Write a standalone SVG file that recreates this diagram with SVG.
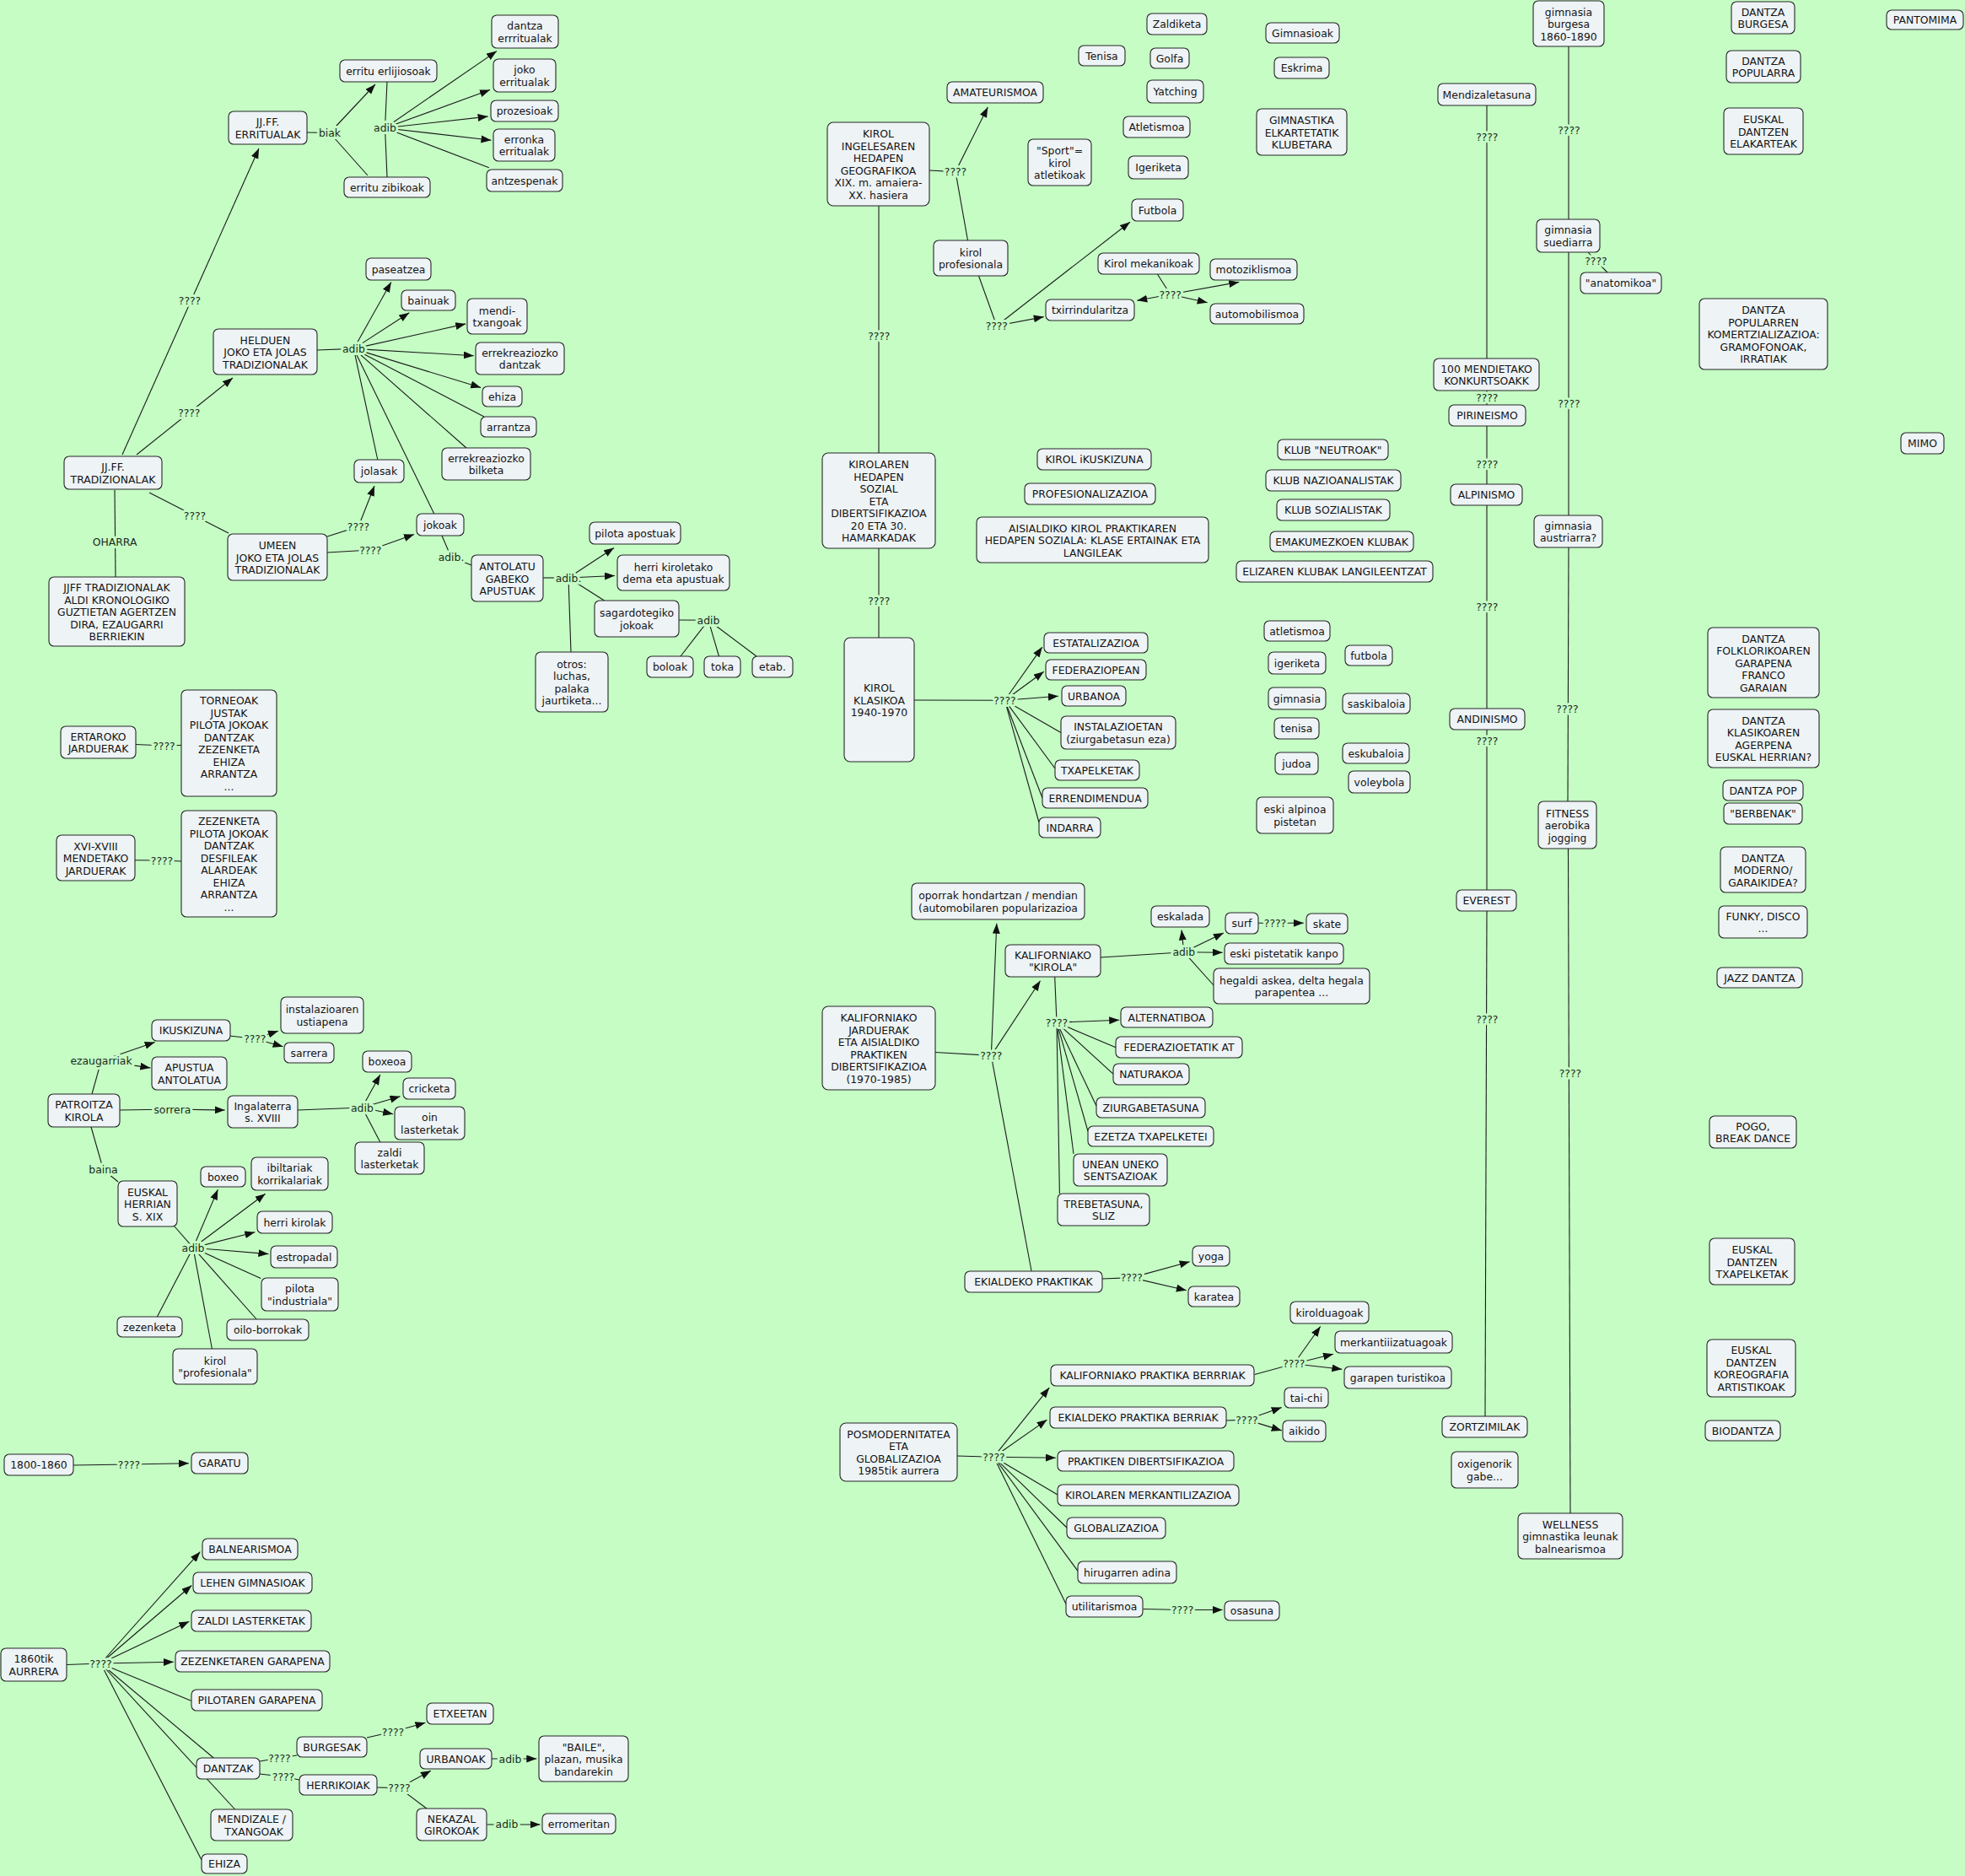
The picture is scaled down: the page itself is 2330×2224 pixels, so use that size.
<svg xmlns="http://www.w3.org/2000/svg" width="2330" height="2224" viewBox="0 0 2330 2224">
<style>
.bg{fill:#c5fdc5}
#nodes rect{fill:#eef3f6;stroke:#262626;stroke-width:1.1}
text,tspan{font-family:"DejaVu Sans",Verdana,sans-serif;font-size:12.4px;fill:#141414;text-anchor:middle;dominant-baseline:central}
.l{fill:#1a2a1a;paint-order:stroke;stroke:#c5fdc5;stroke-width:6px;stroke-linejoin:round}
.c{stroke:#1a1a1a;stroke-width:1.1;fill:none}
.a{marker-end:url(#ah)}
</style>
<defs>
<marker id="ah" markerWidth="13" markerHeight="10" refX="12" refY="4.5" orient="auto" markerUnits="userSpaceOnUse"><path d="M0,0 L12,4.5 L0,9 z" fill="#111"/></marker>
</defs>
<rect class="bg" x="0" y="0" width="2330" height="2224"/>
<g id="connectors">
<path class="c" d="M364,157 L391,157.5"/>
<path class="c a" d="M391,157.5 L445,100"/>
<path class="c" d="M391,157.5 L436,208"/>
<path class="c" d="M459,97 L456.5,151.7 L459,210"/>
<path class="c a" d="M456.5,151.7 L589,60.6"/>
<path class="c a" d="M456.5,151.7 L581,106.6"/>
<path class="c a" d="M456.5,151.7 L578.6,138.1"/>
<path class="c a" d="M456.5,151.7 L582.5,166.3"/>
<path class="c" d="M456.5,151.7 L579.8,198.7"/>
<path class="c a" d="M145,539 L307,176"/>
<path class="c a" d="M162,539 L276,448"/>
<path class="c" d="M177,584 L271,632"/>
<path class="c" d="M136,581 L137,684"/>
<path class="c" d="M376,415 L419.4,413.4"/>
<path class="c a" d="M419.4,413.4 L463.8,334.4"/>
<path class="c a" d="M419.4,413.4 L485.3,370.8"/>
<path class="c a" d="M419.4,413.4 L552.2,383.9"/>
<path class="c a" d="M419.4,413.4 L561.8,421.7"/>
<path class="c a" d="M419.4,413.4 L570.2,459.5"/>
<path class="c" d="M419.4,413.4 L574,494"/>
<path class="c" d="M419.4,413.4 L553,531"/>
<path class="c" d="M419.4,413.4 L447.8,545"/>
<path class="c" d="M419.4,413.4 L514.7,609"/>
<path class="c a" d="M388,636 L425,624.3 L444,576"/>
<path class="c a" d="M388,655 L439.3,652 L491,633.5"/>
<path class="c" d="M524,635 L535,660.6 L559,670"/>
<path class="c" d="M644,685 L674,685"/>
<path class="c a" d="M674,685 L728,649.5"/>
<path class="c a" d="M674,685 L729,682.5"/>
<path class="c" d="M674,685 L716.6,712"/>
<path class="c" d="M674,685 L677,773"/>
<path class="c" d="M805,735 L840,735.3"/>
<path class="c" d="M840,735.3 L807,778"/>
<path class="c" d="M840,735.3 L852.5,778"/>
<path class="c" d="M840,735.3 L897,778"/>
<path class="c" d="M161,882.5 L194.4,884 L215,883.5"/>
<path class="c" d="M160,1019.7 L192,1020 L215,1021"/>
<path class="c" d="M109,1297 L120,1257.6"/>
<path class="c a" d="M120,1257.6 L183.7,1235.4"/>
<path class="c a" d="M120,1257.6 L178.3,1265.9"/>
<path class="c" d="M272.5,1228 L302.3,1231.5"/>
<path class="c a" d="M302.3,1231.5 L329.9,1222.3"/>
<path class="c a" d="M302.3,1231.5 L335.6,1240.7"/>
<path class="c a" d="M142,1316 L204.4,1315 L266.7,1316"/>
<path class="c" d="M353,1316 L429.4,1313"/>
<path class="c a" d="M429.4,1313 L450.8,1274.1"/>
<path class="c a" d="M429.4,1313 L474.5,1299.8"/>
<path class="c a" d="M429.4,1313 L466.1,1320.7"/>
<path class="c" d="M429.4,1313 L450.8,1354"/>
<path class="c" d="M108,1336 L122.5,1386.6 L140,1401"/>
<path class="c" d="M207,1454 L229,1479.2"/>
<path class="c a" d="M229,1479.2 L258.3,1410.3"/>
<path class="c a" d="M229,1479.2 L314.6,1415.2"/>
<path class="c a" d="M229,1479.2 L302.3,1460.8"/>
<path class="c a" d="M229,1479.2 L318.4,1486.6"/>
<path class="c" d="M229,1479.2 L309.2,1515.6"/>
<path class="c" d="M229,1479.2 L304.2,1564"/>
<path class="c" d="M229,1479.2 L251.4,1599"/>
<path class="c" d="M229,1479.2 L186.4,1561"/>
<path class="c a" d="M87,1737 L153,1736 L223.9,1734.8"/>
<path class="c" d="M79,1973.5 L119.4,1972"/>
<path class="c a" d="M119.4,1972 L237.3,1839.7"/>
<path class="c a" d="M119.4,1972 L227.3,1879.5"/>
<path class="c a" d="M119.4,1972 L224.3,1922.2"/>
<path class="c a" d="M119.4,1972 L205.9,1970.2"/>
<path class="c" d="M119.4,1972 L226.6,2016.2"/>
<path class="c" d="M119.4,1972 L253.3,2084"/>
<path class="c" d="M119.4,1972 L278.6,2145"/>
<path class="c" d="M119.4,1972 L239,2205"/>
<path class="c" d="M308,2088 L331.4,2084 L352,2081"/>
<path class="c" d="M308,2103 L336,2106.3 L355,2110"/>
<path class="c a" d="M435,2060 L466,2053 L504.4,2042.3"/>
<path class="c" d="M447,2119 L473.4,2119.6"/>
<path class="c a" d="M473.4,2119.6 L510.9,2099.2"/>
<path class="c" d="M473.4,2119.6 L505.9,2144"/>
<path class="c a" d="M583,2085 L605,2085 L636.3,2085"/>
<path class="c a" d="M577.5,2163 L601,2163 L640.5,2163"/>
<path class="c" d="M1102,202 L1133,203.6"/>
<path class="c a" d="M1133,203.6 L1171.3,127"/>
<path class="c" d="M1133,203.6 L1147.5,285"/>
<path class="c" d="M1042,244 L1042,537"/>
<path class="c" d="M1042,650 L1042,756"/>
<path class="c" d="M1160.5,327 L1181.8,386.3"/>
<path class="c a" d="M1181.8,386.3 L1339.9,263.2"/>
<path class="c a" d="M1181.8,386.3 L1237.7,375.6"/>
<path class="c" d="M1372.4,325 L1387.7,349"/>
<path class="c a" d="M1387.7,349 L1348.3,356.3"/>
<path class="c a" d="M1387.7,349 L1469.2,334.4"/>
<path class="c a" d="M1387.7,349 L1431.7,358.7"/>
<path class="c" d="M1084,830 L1191.4,830.2"/>
<path class="c a" d="M1191.4,830.2 L1235.8,767.1"/>
<path class="c a" d="M1191.4,830.2 L1237.7,796.2"/>
<path class="c a" d="M1191.4,830.2 L1254.9,825.3"/>
<path class="c" d="M1191.4,830.2 L1258,868.4"/>
<path class="c" d="M1191.4,830.2 L1251,911"/>
<path class="c" d="M1191.4,830.2 L1236,946"/>
<path class="c" d="M1191.4,830.2 L1232,975"/>
<path class="c" d="M1109,1247.5 L1175.3,1251.4"/>
<path class="c a" d="M1175.3,1251.4 L1181.8,1094.8"/>
<path class="c a" d="M1175.3,1251.4 L1233.5,1162.7"/>
<path class="c" d="M1175.3,1251.4 L1223.1,1507"/>
<path class="c" d="M1305,1135 L1403.8,1128.7"/>
<path class="c a" d="M1403.8,1128.7 L1401.1,1102.6"/>
<path class="c a" d="M1403.8,1128.7 L1450.9,1106"/>
<path class="c a" d="M1403.8,1128.7 L1449.7,1129.2"/>
<path class="c" d="M1403.8,1128.7 L1439,1168"/>
<path class="c a" d="M1492,1094.3 L1512,1094.3 L1545.8,1094.3"/>
<path class="c" d="M1250.7,1158 L1253,1212.1"/>
<path class="c a" d="M1253,1212.1 L1327.2,1209.2"/>
<path class="c" d="M1253,1212.1 L1323,1241.7"/>
<path class="c" d="M1253,1212.1 L1320,1273.2"/>
<path class="c" d="M1253,1212.1 L1300,1311"/>
<path class="c" d="M1253,1212.1 L1290,1341"/>
<path class="c" d="M1253,1212.1 L1273,1368"/>
<path class="c" d="M1253,1212.1 L1256.4,1415"/>
<path class="c" d="M1307,1516 L1341.8,1514.6"/>
<path class="c a" d="M1341.8,1514.6 L1410.7,1495.7"/>
<path class="c a" d="M1341.8,1514.6 L1406.8,1529.8"/>
<path class="c" d="M1134.5,1726 L1178.4,1727.2"/>
<path class="c a" d="M1178.4,1727.2 L1244.2,1645.1"/>
<path class="c a" d="M1178.4,1727.2 L1241.5,1683.1"/>
<path class="c a" d="M1178.4,1727.2 L1251.8,1728.2"/>
<path class="c" d="M1178.4,1727.2 L1254,1772"/>
<path class="c" d="M1178.4,1727.2 L1265,1811"/>
<path class="c" d="M1178.4,1727.2 L1278,1862.4"/>
<path class="c" d="M1178.4,1727.2 L1264,1901.4"/>
<path class="c" d="M1487.6,1629.5 L1534.3,1616.7"/>
<path class="c a" d="M1534.3,1616.7 L1565.7,1572.5"/>
<path class="c a" d="M1534.3,1616.7 L1581,1605.3"/>
<path class="c a" d="M1534.3,1616.7 L1591.3,1623.3"/>
<path class="c" d="M1453.5,1684 L1478.4,1683.1"/>
<path class="c a" d="M1478.4,1683.1 L1519.7,1668.4"/>
<path class="c a" d="M1478.4,1683.1 L1519.7,1695.9"/>
<path class="c a" d="M1355.6,1907.5 L1402.2,1908.5 L1449.7,1908.5"/>
<path class="c" d="M1763,125 L1763,425"/>
<path class="c" d="M1763,463 L1763,480"/>
<path class="c" d="M1763,505 L1763,574"/>
<path class="c" d="M1763,599 L1763,840"/>
<path class="c" d="M1763,865 L1763,1055"/>
<path class="c" d="M1763,1080 L1761,1679"/>
<path class="c" d="M1860,55 L1860,260"/>
<path class="c" d="M1883,299 L1892.4,309.2 L1906,323"/>
<path class="c" d="M1860,299 L1860,611"/>
<path class="c" d="M1860,649 L1859,950"/>
<path class="c" d="M1859.5,1006 L1862,1794"/>
</g>
<g id="labels">
<text class="l" x="391" y="157.5">biak</text>
<text class="l" x="456.5" y="151.7">adib</text>
<text class="l" x="225" y="356.3">????</text>
<text class="l" x="224.3" y="489.5">????</text>
<text class="l" x="231" y="611">????</text>
<text class="l" x="136" y="642.7">OHARRA</text>
<text class="l" x="419.4" y="413.4">adib</text>
<text class="l" x="425" y="624.3">????</text>
<text class="l" x="439.3" y="652">????</text>
<text class="l" x="535" y="660.6">adib.</text>
<text class="l" x="674" y="685">adib.</text>
<text class="l" x="840" y="735.3">adib</text>
<text class="l" x="194.4" y="884">????</text>
<text class="l" x="192" y="1020">????</text>
<text class="l" x="120" y="1257.6">ezaugarriak</text>
<text class="l" x="302.3" y="1231.5">????</text>
<text class="l" x="204.4" y="1315">sorrera</text>
<text class="l" x="429.4" y="1313">adib</text>
<text class="l" x="122.5" y="1386.6">baina</text>
<text class="l" x="229" y="1479.2">adib</text>
<text class="l" x="153" y="1736">????</text>
<text class="l" x="119.4" y="1972">????</text>
<text class="l" x="331.4" y="2084">????</text>
<text class="l" x="336" y="2106.3">????</text>
<text class="l" x="466" y="2053">????</text>
<text class="l" x="473.4" y="2119.6">????</text>
<text class="l" x="605" y="2085">adib</text>
<text class="l" x="601" y="2162.8">adib</text>
<text class="l" x="1133" y="203.6">????</text>
<text class="l" x="1042.3" y="398.4">????</text>
<text class="l" x="1042.3" y="712.5">????</text>
<text class="l" x="1181.8" y="386.3">????</text>
<text class="l" x="1387.7" y="349">????</text>
<text class="l" x="1191.4" y="830.2">????</text>
<text class="l" x="1175.3" y="1251.4">????</text>
<text class="l" x="1403.8" y="1128.7">adib</text>
<text class="l" x="1512" y="1094.3">????</text>
<text class="l" x="1253" y="1212.1">????</text>
<text class="l" x="1341.8" y="1514.6">????</text>
<text class="l" x="1178.4" y="1727.2">????</text>
<text class="l" x="1534.3" y="1616.7">????</text>
<text class="l" x="1478.4" y="1683.1">????</text>
<text class="l" x="1402.2" y="1908.5">????</text>
<text class="l" x="1763.3" y="162.4">????</text>
<text class="l" x="1763.3" y="471.1">????</text>
<text class="l" x="1763.3" y="550.1">????</text>
<text class="l" x="1763.3" y="719.3">????</text>
<text class="l" x="1763.3" y="878.6">????</text>
<text class="l" x="1763.3" y="1208.2">????</text>
<text class="l" x="1860.4" y="154.1">????</text>
<text class="l" x="1892.4" y="309.2">????</text>
<text class="l" x="1860.4" y="478.9">????</text>
<text class="l" x="1858.5" y="840.3">????</text>
<text class="l" x="1861.9" y="1272.2">????</text>
</g>
<g id="nodes">
<g id="n-jjff-err"><rect x="271" y="132" width="93" height="39" rx="6"/><text x="317.5" y="144.25"><tspan x="317.5">JJ.FF.</tspan><tspan x="317.5" dy="14.5">ERRITUALAK</tspan></text></g>
<g id="n-err-erl"><rect x="403" y="71" width="115" height="26" rx="6"/><text x="460.5" y="84">erritu erlijiosoak</text></g>
<g id="n-err-zib"><rect x="408" y="210" width="102" height="24" rx="6"/><text x="459" y="222">erritu zibikoak</text></g>
<g id="n-dantza-err"><rect x="583" y="18" width="79" height="39" rx="6"/><text x="622.5" y="30.25"><tspan x="622.5">dantza</tspan><tspan x="622.5" dy="14.5">errritualak</tspan></text></g>
<g id="n-joko-err"><rect x="585" y="70" width="74" height="39" rx="6"/><text x="622" y="82.25"><tspan x="622">joko</tspan><tspan x="622" dy="14.5">erritualak</tspan></text></g>
<g id="n-prozesioak"><rect x="582" y="119" width="80" height="25" rx="6"/><text x="622" y="131.5">prozesioak</text></g>
<g id="n-erronka"><rect x="585" y="153" width="73" height="38" rx="6"/><text x="621.5" y="164.75"><tspan x="621.5">erronka</tspan><tspan x="621.5" dy="14.5">erritualak</tspan></text></g>
<g id="n-antzespenak"><rect x="577" y="201" width="90" height="26" rx="6"/><text x="622" y="214">antzespenak</text></g>
<g id="n-helduen"><rect x="253" y="390" width="123" height="54" rx="6"/><text x="314.5" y="402.5"><tspan x="314.5">HELDUEN</tspan><tspan x="314.5" dy="14.5">JOKO ETA JOLAS</tspan><tspan x="314.5" dy="14.5">TRADIZIONALAK</tspan></text></g>
<g id="n-paseatzea"><rect x="434" y="306" width="77" height="26" rx="6"/><text x="472.5" y="319">paseatzea</text></g>
<g id="n-bainuak"><rect x="476" y="344" width="64" height="24" rx="6"/><text x="508" y="356">bainuak</text></g>
<g id="n-mendi"><rect x="554" y="354" width="71" height="42" rx="6"/><text x="589.5" y="367.75"><tspan x="589.5">mendi-</tspan><tspan x="589.5" dy="14.5">txangoak</tspan></text></g>
<g id="n-errek-dantzak"><rect x="564" y="406" width="105" height="38" rx="6"/><text x="616.5" y="417.75"><tspan x="616.5">errekreaziozko</tspan><tspan x="616.5" dy="14.5">dantzak</tspan></text></g>
<g id="n-ehiza1"><rect x="572" y="458" width="47" height="24" rx="6"/><text x="595.5" y="470">ehiza</text></g>
<g id="n-arrantza1"><rect x="570" y="494" width="66" height="24" rx="6"/><text x="603" y="506">arrantza</text></g>
<g id="n-errek-bilketa"><rect x="524" y="531" width="105" height="38" rx="6"/><text x="576.5" y="542.75"><tspan x="576.5">errekreaziozko</tspan><tspan x="576.5" dy="14.5">bilketa</tspan></text></g>
<g id="n-jolasak"><rect x="420" y="545" width="59" height="27" rx="6"/><text x="449.5" y="558.5">jolasak</text></g>
<g id="n-jokoak"><rect x="494" y="609" width="56" height="26" rx="6"/><text x="522" y="622">jokoak</text></g>
<g id="n-jjff-trad"><rect x="76" y="541" width="116" height="39" rx="6"/><text x="134" y="553.25"><tspan x="134">JJ.FF.</tspan><tspan x="134" dy="14.5">TRADIZIONALAK</tspan></text></g>
<g id="n-oharra"><rect x="58" y="684" width="161" height="82" rx="6"/><text x="138.5" y="696"><tspan x="138.5">JJFF TRADIZIONALAK</tspan><tspan x="138.5" dy="14.5">ALDI KRONOLOGIKO</tspan><tspan x="138.5" dy="14.5">GUZTIETAN AGERTZEN</tspan><tspan x="138.5" dy="14.5">DIRA, EZAUGARRI</tspan><tspan x="138.5" dy="14.5">BERRIEKIN</tspan></text></g>
<g id="n-umeen"><rect x="270" y="633" width="118" height="55" rx="6"/><text x="329" y="646"><tspan x="329">UMEEN</tspan><tspan x="329" dy="14.5">JOKO ETA JOLAS</tspan><tspan x="329" dy="14.5">TRADIZIONALAK</tspan></text></g>
<g id="n-antolatu"><rect x="559" y="658" width="85" height="55" rx="6"/><text x="601.5" y="671"><tspan x="601.5">ANTOLATU</tspan><tspan x="601.5" dy="14.5">GABEKO</tspan><tspan x="601.5" dy="14.5">APUSTUAK</tspan></text></g>
<g id="n-pilota-ap"><rect x="699" y="619" width="108" height="26" rx="6"/><text x="753" y="632">pilota apostuak</text></g>
<g id="n-herri-kirol"><rect x="732" y="658" width="133" height="42" rx="6"/><text x="798.5" y="671.75"><tspan x="798.5">herri kiroletako</tspan><tspan x="798.5" dy="14.5">dema eta apustuak</tspan></text></g>
<g id="n-sagardot"><rect x="705" y="712" width="100" height="43" rx="6"/><text x="755" y="726.25"><tspan x="755">sagardotegiko</tspan><tspan x="755" dy="14.5">jokoak</tspan></text></g>
<g id="n-otros"><rect x="635" y="773" width="86" height="71" rx="6"/><text x="678" y="786.75"><tspan x="678">otros:</tspan><tspan x="678" dy="14.5">luchas,</tspan><tspan x="678" dy="14.5">palaka</tspan><tspan x="678" dy="14.5">jaurtiketa...</tspan></text></g>
<g id="n-boloak"><rect x="767" y="778" width="55" height="25" rx="6"/><text x="794.5" y="790.5">boloak</text></g>
<g id="n-toka"><rect x="835" y="778" width="43" height="25" rx="6"/><text x="856.5" y="790.5">toka</text></g>
<g id="n-etab"><rect x="892" y="778" width="48" height="25" rx="6"/><text x="916" y="790.5">etab.</text></g>
<g id="n-torneoak"><rect x="215" y="818" width="113" height="126" rx="6"/><text x="271.5" y="830.25"><tspan x="271.5">TORNEOAK</tspan><tspan x="271.5" dy="14.5">JUSTAK</tspan><tspan x="271.5" dy="14.5">PILOTA JOKOAK</tspan><tspan x="271.5" dy="14.5">DANTZAK</tspan><tspan x="271.5" dy="14.5">ZEZENKETA</tspan><tspan x="271.5" dy="14.5">EHIZA</tspan><tspan x="271.5" dy="14.5">ARRANTZA</tspan><tspan x="271.5" dy="14.5">...</tspan></text></g>
<g id="n-ertaroko"><rect x="72" y="861" width="89" height="38" rx="6"/><text x="116.5" y="872.75"><tspan x="116.5">ERTAROKO</tspan><tspan x="116.5" dy="14.5">JARDUERAK</tspan></text></g>
<g id="n-zezenketa-list"><rect x="215" y="961" width="113" height="126" rx="6"/><text x="271.5" y="973.25"><tspan x="271.5">ZEZENKETA</tspan><tspan x="271.5" dy="14.5">PILOTA JOKOAK</tspan><tspan x="271.5" dy="14.5">DANTZAK</tspan><tspan x="271.5" dy="14.5">DESFILEAK</tspan><tspan x="271.5" dy="14.5">ALARDEAK</tspan><tspan x="271.5" dy="14.5">EHIZA</tspan><tspan x="271.5" dy="14.5">ARRANTZA</tspan><tspan x="271.5" dy="14.5">...</tspan></text></g>
<g id="n-xvi"><rect x="67" y="990" width="93" height="54" rx="6"/><text x="113.5" y="1002.5"><tspan x="113.5">XVI-XVIII</tspan><tspan x="113.5" dy="14.5">MENDETAKO</tspan><tspan x="113.5" dy="14.5">JARDUERAK</tspan></text></g>
<g id="n-instalazioaren"><rect x="333" y="1182" width="98" height="43" rx="6"/><text x="382" y="1196.25"><tspan x="382">instalazioaren</tspan><tspan x="382" dy="14.5">ustiapena</tspan></text></g>
<g id="n-ikuskizuna"><rect x="180" y="1209" width="93" height="25" rx="6"/><text x="226.5" y="1221.5">IKUSKIZUNA</text></g>
<g id="n-sarrera"><rect x="337" y="1236" width="59" height="24" rx="6"/><text x="366.5" y="1248">sarrera</text></g>
<g id="n-apustua"><rect x="180" y="1253" width="89" height="39" rx="6"/><text x="224.5" y="1265.25"><tspan x="224.5">APUSTUA</tspan><tspan x="224.5" dy="14.5">ANTOLATUA</tspan></text></g>
<g id="n-patroitza"><rect x="57" y="1297" width="85" height="39" rx="6"/><text x="99.5" y="1309.25"><tspan x="99.5">PATROITZA</tspan><tspan x="99.5" dy="14.5">KIROLA</tspan></text></g>
<g id="n-ingalaterra"><rect x="270" y="1299" width="83" height="38" rx="6"/><text x="311.5" y="1310.75"><tspan x="311.5">Ingalaterra</tspan><tspan x="311.5" dy="14.5">s. XVIII</tspan></text></g>
<g id="n-boxeoa"><rect x="430" y="1246" width="58" height="25" rx="6"/><text x="459" y="1258.5">boxeoa</text></g>
<g id="n-cricketa"><rect x="478" y="1278" width="62" height="25" rx="6"/><text x="509" y="1290.5">cricketa</text></g>
<g id="n-oin"><rect x="468" y="1312" width="83" height="39" rx="6"/><text x="509.5" y="1324.25"><tspan x="509.5">oin</tspan><tspan x="509.5" dy="14.5">lasterketak</tspan></text></g>
<g id="n-zaldi"><rect x="421" y="1354" width="82" height="38" rx="6"/><text x="462" y="1365.75"><tspan x="462">zaldi</tspan><tspan x="462" dy="14.5">lasterketak</tspan></text></g>
<g id="n-euskal-herrian"><rect x="140" y="1400" width="70" height="54" rx="6"/><text x="175" y="1412.5"><tspan x="175">EUSKAL</tspan><tspan x="175" dy="14.5">HERRIAN</tspan><tspan x="175" dy="14.5">S. XIX</tspan></text></g>
<g id="n-boxeo"><rect x="238" y="1383" width="53" height="24" rx="6"/><text x="264.5" y="1395">boxeo</text></g>
<g id="n-ibiltariak"><rect x="298" y="1372" width="91" height="39" rx="6"/><text x="343.5" y="1384.25"><tspan x="343.5">ibiltariak</tspan><tspan x="343.5" dy="14.5">korrikalariak</tspan></text></g>
<g id="n-herri-kirolak"><rect x="305" y="1436" width="89" height="26" rx="6"/><text x="349.5" y="1449">herri kirolak</text></g>
<g id="n-estropadal"><rect x="321" y="1477" width="79" height="26" rx="6"/><text x="360.5" y="1490">estropadal</text></g>
<g id="n-pilota-ind"><rect x="310" y="1515" width="91" height="39" rx="6"/><text x="355.5" y="1527.25"><tspan x="355.5">pilota</tspan><tspan x="355.5" dy="14.5">"industriala"</tspan></text></g>
<g id="n-zezenketa"><rect x="139" y="1561" width="77" height="24" rx="6"/><text x="177.5" y="1573">zezenketa</text></g>
<g id="n-oilo"><rect x="269" y="1564" width="97" height="25" rx="6"/><text x="317.5" y="1576.5">oilo-borrokak</text></g>
<g id="n-kirol-prof2"><rect x="205" y="1599" width="100" height="42" rx="6"/><text x="255" y="1612.75"><tspan x="255">kirol</tspan><tspan x="255" dy="14.5">"profesionala"</tspan></text></g>
<g id="n-1800"><rect x="5" y="1724" width="82" height="25" rx="6"/><text x="46" y="1736.5">1800-1860</text></g>
<g id="n-garatu"><rect x="227" y="1722" width="67" height="25" rx="6"/><text x="260.5" y="1734.5">GARATU</text></g>
<g id="n-1860"><rect x="1" y="1954" width="78" height="39" rx="6"/><text x="40" y="1966.25"><tspan x="40">1860tik</tspan><tspan x="40" dy="14.5">AURRERA</tspan></text></g>
<g id="n-balnearismoa"><rect x="240" y="1824" width="113" height="25" rx="6"/><text x="296.5" y="1836.5">BALNEARISMOA</text></g>
<g id="n-lehen"><rect x="229" y="1864" width="141" height="25" rx="6"/><text x="299.5" y="1876.5">LEHEN GIMNASIOAK</text></g>
<g id="n-zaldi-last"><rect x="227" y="1909" width="142" height="25" rx="6"/><text x="298" y="1921.5">ZALDI LASTERKETAK</text></g>
<g id="n-zezenketaren"><rect x="208" y="1957" width="183" height="25" rx="6"/><text x="299.5" y="1969.5">ZEZENKETAREN GARAPENA</text></g>
<g id="n-pilotaren"><rect x="227" y="2003" width="155" height="25" rx="6"/><text x="304.5" y="2015.5">PILOTAREN GARAPENA</text></g>
<g id="n-dantzak"><rect x="233" y="2084" width="75" height="25" rx="6"/><text x="270.5" y="2096.5">DANTZAK</text></g>
<g id="n-mendizale"><rect x="250" y="2145" width="97" height="37" rx="6"/><text x="298.5" y="2156.25"><tspan x="298.5">MENDIZALE /</tspan><tspan x="301" dy="14.5">TXANGOAK</tspan></text></g>
<g id="n-ehiza2"><rect x="239" y="2198" width="54" height="23" rx="6"/><text x="266" y="2209.5">EHIZA</text></g>
<g id="n-burgesak"><rect x="352" y="2059" width="83" height="24" rx="6"/><text x="393.5" y="2071">BURGESAK</text></g>
<g id="n-herrikoiak"><rect x="355" y="2104" width="92" height="24" rx="6"/><text x="401" y="2116">HERRIKOIAK</text></g>
<g id="n-etxeetan"><rect x="506" y="2019" width="79" height="25" rx="6"/><text x="545.5" y="2031.5">ETXEETAN</text></g>
<g id="n-urbanoak"><rect x="498" y="2073" width="85" height="24" rx="6"/><text x="540.5" y="2085">URBANOAK</text></g>
<g id="n-nekazal"><rect x="494" y="2144" width="83" height="38" rx="6"/><text x="535.5" y="2155.75"><tspan x="535.5">NEKAZAL</tspan><tspan x="535.5" dy="14.5">GIROKOAK</tspan></text></g>
<g id="n-baile"><rect x="639" y="2058" width="106" height="54" rx="6"/><text x="692" y="2070.5"><tspan x="692">"BAILE",</tspan><tspan x="692" dy="14.5">plazan, musika</tspan><tspan x="692" dy="14.5">bandarekin</tspan></text></g>
<g id="n-erromeritan"><rect x="643" y="2150" width="87" height="24" rx="6"/><text x="686.5" y="2162">erromeritan</text></g>
<g id="n-kirol-ingel"><rect x="981" y="145" width="121" height="99" rx="7"/><text x="1041.5" y="158.25"><tspan x="1041.5">KIROL</tspan><tspan x="1041.5" dy="14.5">INGELESAREN</tspan><tspan x="1041.5" dy="14.5">HEDAPEN</tspan><tspan x="1041.5" dy="14.5">GEOGRAFIKOA</tspan><tspan x="1041.5" dy="14.5">XIX. m. amaiera-</tspan><tspan x="1041.5" dy="14.5">XX. hasiera</tspan></text></g>
<g id="n-kirolaren"><rect x="975" y="537" width="134" height="113" rx="7"/><text x="1042" y="550"><tspan x="1042">KIROLAREN</tspan><tspan x="1042" dy="14.5">HEDAPEN</tspan><tspan x="1042" dy="14.5">SOZIAL</tspan><tspan x="1042" dy="14.5">ETA</tspan><tspan x="1042" dy="14.5">DIBERTSIFIKAZIOA</tspan><tspan x="1042" dy="14.5">20 ETA 30.</tspan><tspan x="1042" dy="14.5">HAMARKADAK</tspan></text></g>
<g id="n-kirol-klas"><rect x="1001" y="756" width="83" height="147" rx="7"/><text x="1042.5" y="815"><tspan x="1042.5">KIROL</tspan><tspan x="1042.5" dy="14.5">KLASIKOA</tspan><tspan x="1042.5" dy="14.5">1940-1970</tspan></text></g>
<g id="n-kalif-jard"><rect x="975" y="1193" width="134" height="99" rx="7"/><text x="1042" y="1206.25"><tspan x="1042">KALIFORNIAKO</tspan><tspan x="1042" dy="14.5">JARDUERAK</tspan><tspan x="1042" dy="14.5">ETA AISIALDIKO</tspan><tspan x="1042" dy="14.5">PRAKTIKEN</tspan><tspan x="1042" dy="14.5">DIBERTSIFIKAZIOA</tspan><tspan x="1042" dy="14.5">(1970-1985)</tspan></text></g>
<g id="n-posmod"><rect x="996" y="1687" width="139" height="69" rx="7"/><text x="1065.5" y="1699.75"><tspan x="1065.5">POSMODERNITATEA</tspan><tspan x="1065.5" dy="14.5">ETA</tspan><tspan x="1065.5" dy="14.5">GLOBALIZAZIOA</tspan><tspan x="1065.5" dy="14.5">1985tik aurrera</tspan></text></g>
<g id="n-amateurismoa"><rect x="1123" y="97" width="114" height="25" rx="6"/><text x="1180" y="109.5">AMATEURISMOA</text></g>
<g id="n-kirol-prof"><rect x="1107" y="285" width="88" height="42" rx="6"/><text x="1151" y="298.75"><tspan x="1151">kirol</tspan><tspan x="1151" dy="14.5">profesionala</tspan></text></g>
<g id="n-zaldiketa"><rect x="1360" y="16" width="71" height="25" rx="6"/><text x="1395.5" y="28.5">Zaldiketa</text></g>
<g id="n-tenisa"><rect x="1279" y="54" width="55" height="24" rx="6"/><text x="1306.5" y="66">Tenisa</text></g>
<g id="n-golfa"><rect x="1364" y="57" width="46" height="24" rx="6"/><text x="1387" y="69">Golfa</text></g>
<g id="n-yatching"><rect x="1360" y="95" width="67" height="27" rx="6"/><text x="1393.5" y="108.5">Yatching</text></g>
<g id="n-atletismoa"><rect x="1332" y="138" width="79" height="25" rx="6"/><text x="1371.5" y="150.5">Atletismoa</text></g>
<g id="n-sport"><rect x="1219" y="165" width="75" height="55" rx="6"/><text x="1256.5" y="178"><tspan x="1256.5">"Sport"=</tspan><tspan x="1256.5" dy="14.5">kirol</tspan><tspan x="1256.5" dy="14.5">atletikoak</tspan></text></g>
<g id="n-igeriketa"><rect x="1338" y="185" width="71" height="27" rx="6"/><text x="1373.5" y="198.5">Igeriketa</text></g>
<g id="n-futbola"><rect x="1342" y="236" width="61" height="26" rx="6"/><text x="1372.5" y="249">Futbola</text></g>
<g id="n-gimnasioak"><rect x="1501" y="27" width="87" height="24" rx="6"/><text x="1544.5" y="39">Gimnasioak</text></g>
<g id="n-eskrima"><rect x="1511" y="68" width="65" height="25" rx="6"/><text x="1543.5" y="80.5">Eskrima</text></g>
<g id="n-gimnastika"><rect x="1490" y="129" width="107" height="55" rx="6"/><text x="1543.5" y="142"><tspan x="1543.5">GIMNASTIKA</tspan><tspan x="1543.5" dy="14.5">ELKARTETATIK</tspan><tspan x="1543.5" dy="14.5">KLUBETARA</tspan></text></g>
<g id="n-kirol-mek"><rect x="1302" y="300" width="120" height="25" rx="6"/><text x="1362" y="312.5">Kirol mekanikoak</text></g>
<g id="n-motoz"><rect x="1435" y="307" width="103" height="25" rx="6"/><text x="1486.5" y="319.5">motoziklismoa</text></g>
<g id="n-autom"><rect x="1435" y="360" width="111" height="24" rx="6"/><text x="1490.5" y="372">automobilismoa</text></g>
<g id="n-txirrin"><rect x="1240" y="355" width="105" height="25" rx="6"/><text x="1292.5" y="367.5">txirrindularitza</text></g>
<g id="n-kirol-ikus"><rect x="1230" y="532" width="135" height="25" rx="6"/><text x="1297.5" y="544.5">KIROL iKUSKIZUNA</text></g>
<g id="n-profes"><rect x="1215" y="573" width="155" height="25" rx="6"/><text x="1292.5" y="585.5">PROFESIONALIZAZIOA</text></g>
<g id="n-aisialdiko"><rect x="1158" y="613" width="275" height="54" rx="6"/><text x="1295.5" y="625.5"><tspan x="1295.5">AISIALDIKO KIROL PRAKTIKAREN</tspan><tspan x="1295.5" dy="14.5">HEDAPEN SOZIALA: KLASE ERTAINAK ETA</tspan><tspan x="1295.5" dy="14.5">LANGILEAK</tspan></text></g>
<g id="n-klub-neutro"><rect x="1515" y="521" width="131" height="24" rx="6"/><text x="1580.5" y="533">KLUB "NEUTROAK"</text></g>
<g id="n-klub-nazio"><rect x="1501" y="557" width="160" height="25" rx="6"/><text x="1581" y="569.5">KLUB NAZIOANALISTAK</text></g>
<g id="n-klub-soz"><rect x="1514" y="592" width="134" height="25" rx="6"/><text x="1581" y="604.5">KLUB SOZIALISTAK</text></g>
<g id="n-emakum"><rect x="1506" y="630" width="170" height="24" rx="6"/><text x="1591" y="642">EMAKUMEZKOEN KLUBAK</text></g>
<g id="n-elizaren"><rect x="1466" y="665" width="233" height="25" rx="6"/><text x="1582.5" y="677.5">ELIZAREN KLUBAK LANGILEENTZAT</text></g>
<g id="n-atletismoa2"><rect x="1499" y="736" width="78" height="24" rx="6"/><text x="1538" y="748">atletismoa</text></g>
<g id="n-igeriketa2"><rect x="1504" y="773" width="68" height="26" rx="6"/><text x="1538" y="786">igeriketa</text></g>
<g id="n-futbola2"><rect x="1595" y="765" width="56" height="24" rx="6"/><text x="1623" y="777">futbola</text></g>
<g id="n-gimnasia2"><rect x="1504" y="815" width="68" height="26" rx="6"/><text x="1538" y="828">gimnasia</text></g>
<g id="n-saskibaloia"><rect x="1592" y="822" width="80" height="24" rx="6"/><text x="1632" y="834">saskibaloia</text></g>
<g id="n-tenisa2"><rect x="1511" y="851" width="53" height="25" rx="6"/><text x="1537.5" y="863.5">tenisa</text></g>
<g id="n-judoa"><rect x="1512" y="892" width="51" height="26" rx="6"/><text x="1537.5" y="905">judoa</text></g>
<g id="n-eskubaloia"><rect x="1592" y="881" width="79" height="24" rx="6"/><text x="1631.5" y="893">eskubaloia</text></g>
<g id="n-voleybola"><rect x="1599" y="914" width="73" height="26" rx="6"/><text x="1635.5" y="927">voleybola</text></g>
<g id="n-eski-alp"><rect x="1490" y="945" width="91" height="43" rx="6"/><text x="1535.5" y="959.25"><tspan x="1535.5">eski alpinoa</tspan><tspan x="1535.5" dy="14.5">pistetan</tspan></text></g>
<g id="n-estatal"><rect x="1238" y="750" width="123" height="24" rx="6"/><text x="1299.5" y="762">ESTATALIZAZIOA</text></g>
<g id="n-federaz"><rect x="1240" y="782" width="119" height="24" rx="6"/><text x="1299.5" y="794">FEDERAZIOPEAN</text></g>
<g id="n-urbanoa"><rect x="1259" y="813" width="76" height="24" rx="6"/><text x="1297" y="825">URBANOA</text></g>
<g id="n-instalaz"><rect x="1258" y="849" width="136" height="39" rx="6"/><text x="1326" y="861.25"><tspan x="1326">INSTALAZIOETAN</tspan><tspan x="1326" dy="14.5">(ziurgabetasun eza)</tspan></text></g>
<g id="n-txapelketak"><rect x="1251" y="901" width="100" height="24" rx="6"/><text x="1301" y="913">TXAPELKETAK</text></g>
<g id="n-errendimendua"><rect x="1236" y="934" width="125" height="24" rx="6"/><text x="1298.5" y="946">ERRENDIMENDUA</text></g>
<g id="n-indarra"><rect x="1232" y="969" width="73" height="24" rx="6"/><text x="1268.5" y="981">INDARRA</text></g>
<g id="n-oporrak"><rect x="1081" y="1047" width="205" height="43" rx="6"/><text x="1183.5" y="1061.25"><tspan x="1183.5">oporrak hondartzan / mendian</tspan><tspan x="1183.5" dy="14.5">(automobilaren popularizazioa</tspan></text></g>
<g id="n-kalif-kirola"><rect x="1192" y="1120" width="113" height="38" rx="6"/><text x="1248.5" y="1131.75"><tspan x="1248.5">KALIFORNIAKO</tspan><tspan x="1248.5" dy="14.5">"KIROLA"</tspan></text></g>
<g id="n-eskalada"><rect x="1365" y="1074" width="69" height="25" rx="6"/><text x="1399.5" y="1086.5">eskalada</text></g>
<g id="n-surf"><rect x="1453" y="1082" width="39" height="25" rx="6"/><text x="1472.5" y="1094.5">surf</text></g>
<g id="n-skate"><rect x="1549" y="1083" width="49" height="24" rx="6"/><text x="1573.5" y="1095">skate</text></g>
<g id="n-eski-pist"><rect x="1452" y="1118" width="141" height="25" rx="6"/><text x="1522.5" y="1130.5">eski pistetatik kanpo</text></g>
<g id="n-hegaldi"><rect x="1439" y="1148" width="185" height="42" rx="6"/><text x="1531.5" y="1161.75"><tspan x="1531.5">hegaldi askea, delta hegala</tspan><tspan x="1531.5" dy="14.5">parapentea ...</tspan></text></g>
<g id="n-alternat"><rect x="1329" y="1194" width="109" height="24" rx="6"/><text x="1383.5" y="1206">ALTERNATIBOA</text></g>
<g id="n-fedat"><rect x="1323" y="1229" width="150" height="25" rx="6"/><text x="1398" y="1241.5">FEDERAZIOETATIK AT</text></g>
<g id="n-naturakoa"><rect x="1320" y="1261" width="90" height="25" rx="6"/><text x="1365" y="1273.5">NATURAKOA</text></g>
<g id="n-ziurg"><rect x="1300" y="1301" width="129" height="24" rx="6"/><text x="1364.5" y="1313">ZIURGABETASUNA</text></g>
<g id="n-ezetza"><rect x="1290" y="1335" width="149" height="24" rx="6"/><text x="1364.5" y="1347">EZETZA TXAPELKETEI</text></g>
<g id="n-unean"><rect x="1273" y="1368" width="111" height="38" rx="6"/><text x="1328.5" y="1379.75"><tspan x="1328.5">UNEAN UNEKO</tspan><tspan x="1328.5" dy="14.5">SENTSAZIOAK</tspan></text></g>
<g id="n-trebet"><rect x="1254" y="1415" width="109" height="38" rx="6"/><text x="1308.5" y="1426.75"><tspan x="1308.5">TREBETASUNA,</tspan><tspan x="1308.5" dy="14.5">SLIZ</tspan></text></g>
<g id="n-ekialdeko"><rect x="1144" y="1507" width="163" height="25" rx="6"/><text x="1225.5" y="1519.5">EKIALDEKO PRAKTIKAK</text></g>
<g id="n-yoga"><rect x="1414" y="1477" width="44" height="24" rx="6"/><text x="1436" y="1489">yoga</text></g>
<g id="n-karatea"><rect x="1409" y="1525" width="61" height="24" rx="6"/><text x="1439.5" y="1537">karatea</text></g>
<g id="n-kpb"><rect x="1246" y="1618" width="241" height="25" rx="6"/><text x="1366.5" y="1630.5">KALIFORNIAKO PRAKTIKA BERRRIAK</text></g>
<g id="n-kirolduagoak"><rect x="1530" y="1543" width="93" height="26" rx="6"/><text x="1576.5" y="1556">kirolduagoak</text></g>
<g id="n-merkant"><rect x="1583" y="1578" width="139" height="26" rx="6"/><text x="1652.5" y="1591">merkantiiizatuagoak</text></g>
<g id="n-garapen"><rect x="1594" y="1620" width="127" height="26" rx="6"/><text x="1657.5" y="1633">garapen turistikoa</text></g>
<g id="n-epb"><rect x="1245" y="1668" width="209" height="25" rx="6"/><text x="1349.5" y="1680.5">EKIALDEKO PRAKTIKA BERRIAK</text></g>
<g id="n-taichi"><rect x="1523" y="1645" width="52" height="24" rx="6"/><text x="1549" y="1657">tai-chi</text></g>
<g id="n-aikido"><rect x="1521" y="1684" width="51" height="25" rx="6"/><text x="1546.5" y="1696.5">aikido</text></g>
<g id="n-praktiken"><rect x="1254" y="1720" width="209" height="24" rx="6"/><text x="1358.5" y="1732">PRAKTIKEN DIBERTSIFIKAZIOA</text></g>
<g id="n-kmerk"><rect x="1254" y="1760" width="215" height="25" rx="6"/><text x="1361.5" y="1772.5">KIROLAREN MERKANTILIZAZIOA</text></g>
<g id="n-global"><rect x="1265" y="1799" width="117" height="25" rx="6"/><text x="1323.5" y="1811.5">GLOBALIZAZIOA</text></g>
<g id="n-hirug"><rect x="1278" y="1851" width="117" height="26" rx="6"/><text x="1336.5" y="1864">hirugarren adina</text></g>
<g id="n-utilit"><rect x="1264" y="1892" width="91" height="25" rx="6"/><text x="1309.5" y="1904.5">utilitarismoa</text></g>
<g id="n-osasuna"><rect x="1452" y="1898" width="65" height="23" rx="6"/><text x="1484.5" y="1909.5">osasuna</text></g>
<g id="n-mendizaletasuna"><rect x="1705" y="99" width="116" height="26" rx="6"/><text x="1763" y="112">Mendizaletasuna</text></g>
<g id="n-100mend"><rect x="1700" y="425" width="125" height="38" rx="6"/><text x="1762.5" y="436.75"><tspan x="1762.5">100 MENDIETAKO</tspan><tspan x="1762.5" dy="14.5">KONKURTSOAKK</tspan></text></g>
<g id="n-pirineismo"><rect x="1718" y="480" width="91" height="25" rx="6"/><text x="1763.5" y="492.5">PIRINEISMO</text></g>
<g id="n-alpinismo"><rect x="1720" y="574" width="85" height="25" rx="6"/><text x="1762.5" y="586.5">ALPINISMO</text></g>
<g id="n-andinismo"><rect x="1719" y="840" width="89" height="25" rx="6"/><text x="1763.5" y="852.5">ANDINISMO</text></g>
<g id="n-everest"><rect x="1727" y="1055" width="71" height="25" rx="6"/><text x="1762.5" y="1067.5">EVEREST</text></g>
<g id="n-zortzimilak"><rect x="1710" y="1679" width="101" height="25" rx="6"/><text x="1760.5" y="1691.5">ZORTZIMILAK</text></g>
<g id="n-oxigenorik"><rect x="1721" y="1721" width="79" height="43" rx="6"/><text x="1760.5" y="1735.25"><tspan x="1760.5">oxigenorik</tspan><tspan x="1760.5" dy="14.5">gabe...</tspan></text></g>
<g id="n-gim-burg"><rect x="1818" y="1" width="84" height="54" rx="6"/><text x="1860" y="13.5"><tspan x="1860">gimnasia</tspan><tspan x="1860" dy="14.5">burgesa</tspan><tspan x="1860" dy="14.5">1860-1890</tspan></text></g>
<g id="n-gim-sued"><rect x="1822" y="260" width="75" height="39" rx="6"/><text x="1859.5" y="272.25"><tspan x="1859.5">gimnasia</tspan><tspan x="1859.5" dy="14.5">suediarra</tspan></text></g>
<g id="n-anatomikoa"><rect x="1874" y="323" width="96" height="25" rx="6"/><text x="1922" y="335.5">"anatomikoa"</text></g>
<g id="n-gim-aust"><rect x="1819" y="611" width="81" height="38" rx="6"/><text x="1859.5" y="622.75"><tspan x="1859.5">gimnasia</tspan><tspan x="1859.5" dy="14.5">austriarra?</tspan></text></g>
<g id="n-fitness"><rect x="1824" y="950" width="69" height="56" rx="6"/><text x="1858.5" y="963.5"><tspan x="1858.5">FITNESS</tspan><tspan x="1858.5" dy="14.5">aerobika</tspan><tspan x="1858.5" dy="14.5">jogging</tspan></text></g>
<g id="n-wellness"><rect x="1800" y="1794" width="124" height="54" rx="6"/><text x="1862" y="1806.5"><tspan x="1862">WELLNESS</tspan><tspan x="1862" dy="14.5">gimnastika leunak</tspan><tspan x="1862" dy="14.5">balnearismoa</tspan></text></g>
<g id="n-dantza-burg"><rect x="2053" y="2" width="75" height="38" rx="6"/><text x="2090.5" y="13.75"><tspan x="2090.5">DANTZA</tspan><tspan x="2090.5" dy="14.5">BURGESA</tspan></text></g>
<g id="n-dantza-pop"><rect x="2047" y="60" width="88" height="38" rx="6"/><text x="2091" y="71.75"><tspan x="2091">DANTZA</tspan><tspan x="2091" dy="14.5">POPULARRA</tspan></text></g>
<g id="n-euskal-elak"><rect x="2044" y="128" width="94" height="55" rx="6"/><text x="2091" y="141"><tspan x="2091">EUSKAL</tspan><tspan x="2091" dy="14.5">DANTZEN</tspan><tspan x="2091" dy="14.5">ELAKARTEAK</tspan></text></g>
<g id="n-pantomima"><rect x="2237" y="12" width="91" height="23" rx="6"/><text x="2282.5" y="23.5">PANTOMIMA</text></g>
<g id="n-dantza-komer"><rect x="2015" y="354" width="152" height="84" rx="6"/><text x="2091" y="367"><tspan x="2091">DANTZA</tspan><tspan x="2091" dy="14.5">POPULARREN</tspan><tspan x="2091" dy="14.5">KOMERTZIALIZAZIOA:</tspan><tspan x="2091" dy="14.5">GRAMOFONOAK,</tspan><tspan x="2091" dy="14.5">IRRATIAK</tspan></text></g>
<g id="n-mimo"><rect x="2254" y="513" width="51" height="25" rx="6"/><text x="2279.5" y="525.5">MIMO</text></g>
<g id="n-dantza-folk"><rect x="2025" y="744" width="132" height="83" rx="6"/><text x="2091" y="756.5"><tspan x="2091">DANTZA</tspan><tspan x="2091" dy="14.5">FOLKLORIKOAREN</tspan><tspan x="2091" dy="14.5">GARAPENA</tspan><tspan x="2091" dy="14.5">FRANCO</tspan><tspan x="2091" dy="14.5">GARAIAN</tspan></text></g>
<g id="n-dantza-klas"><rect x="2025" y="841" width="132" height="69" rx="6"/><text x="2091" y="853.75"><tspan x="2091">DANTZA</tspan><tspan x="2091" dy="14.5">KLASIKOAREN</tspan><tspan x="2091" dy="14.5">AGERPENA</tspan><tspan x="2091" dy="14.5">EUSKAL HERRIAN?</tspan></text></g>
<g id="n-dantza-pop2"><rect x="2043" y="925" width="95" height="24" rx="6"/><text x="2090.5" y="937">DANTZA POP</text></g>
<g id="n-berbenak"><rect x="2044" y="952" width="93" height="25" rx="6"/><text x="2090.5" y="964.5">"BERBENAK"</text></g>
<g id="n-dantza-mod"><rect x="2040" y="1004" width="101" height="54" rx="6"/><text x="2090.5" y="1016.5"><tspan x="2090.5">DANTZA</tspan><tspan x="2090.5" dy="14.5">MODERNO/</tspan><tspan x="2090.5" dy="14.5">GARAIKIDEA?</tspan></text></g>
<g id="n-funky"><rect x="2038" y="1074" width="105" height="38" rx="6"/><text x="2090.5" y="1085.75"><tspan x="2090.5">FUNKY, DISCO</tspan><tspan x="2090.5" dy="14.5">...</tspan></text></g>
<g id="n-jazz"><rect x="2036" y="1147" width="101" height="24" rx="6"/><text x="2086.5" y="1159">JAZZ DANTZA</text></g>
<g id="n-pogo"><rect x="2027" y="1323" width="103" height="38" rx="6"/><text x="2078.5" y="1334.75"><tspan x="2078.5">POGO,</tspan><tspan x="2078.5" dy="14.5">BREAK DANCE</tspan></text></g>
<g id="n-euskal-txap"><rect x="2027" y="1468" width="101" height="55" rx="6"/><text x="2077.5" y="1481"><tspan x="2077.5">EUSKAL</tspan><tspan x="2077.5" dy="14.5">DANTZEN</tspan><tspan x="2077.5" dy="14.5">TXAPELKETAK</tspan></text></g>
<g id="n-euskal-koreo"><rect x="2024" y="1588" width="105" height="68" rx="6"/><text x="2076.5" y="1600.25"><tspan x="2076.5">EUSKAL</tspan><tspan x="2076.5" dy="14.5">DANTZEN</tspan><tspan x="2076.5" dy="14.5">KOREOGRAFIA</tspan><tspan x="2076.5" dy="14.5">ARTISTIKOAK</tspan></text></g>
<g id="n-biodantza"><rect x="2022" y="1684" width="89" height="24" rx="6"/><text x="2066.5" y="1696">BIODANTZA</text></g>
</g>
</svg>
